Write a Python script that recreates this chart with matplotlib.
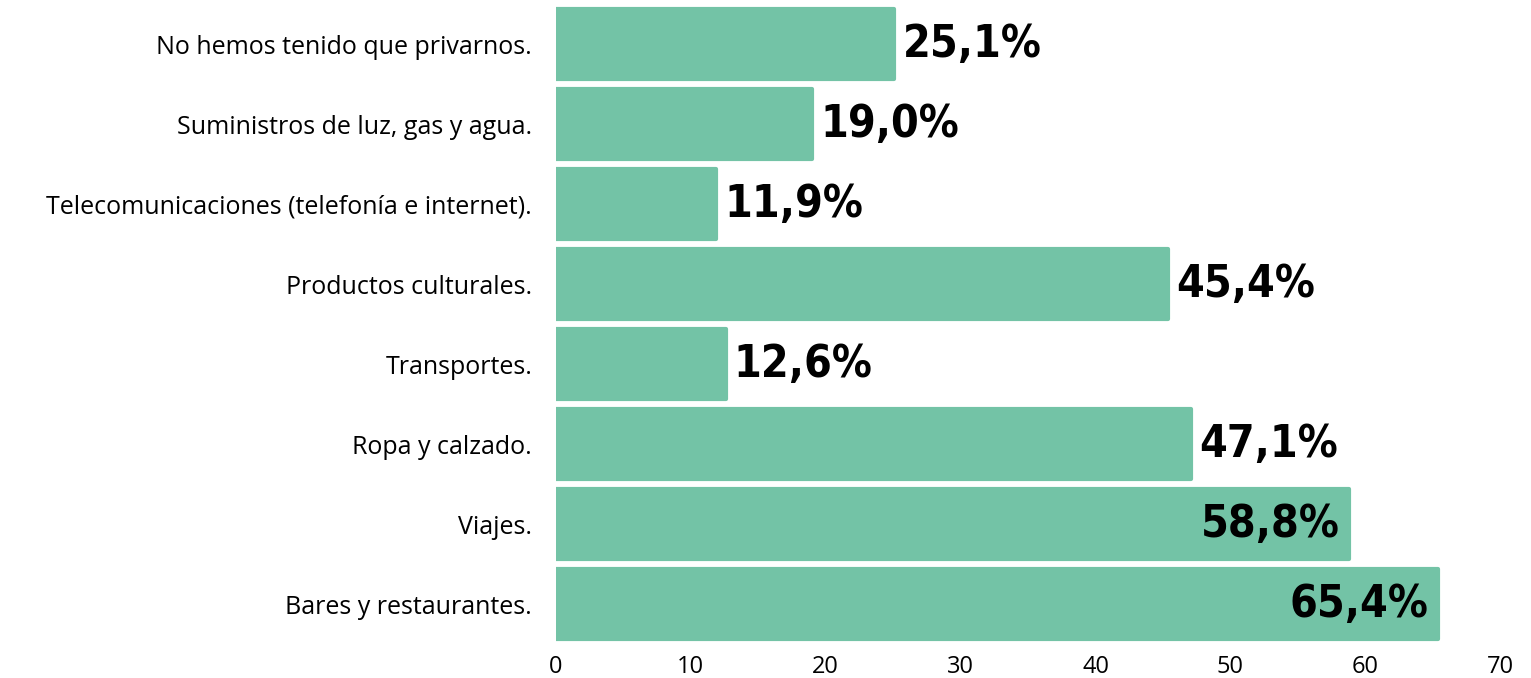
import matplotlib.pyplot as plt
from matplotlib import font_manager

# Data (top to bottom as in the chart)
categories = [
    'No hemos tenido que privarnos.',
    'Suministros de luz, gas y agua.',
    'Telecomunicaciones (telefonía e internet).',
    'Productos culturales.',
    'Transportes.',
    'Ropa y calzado.',
    'Viajes.',
    'Bares y restaurantes.',
]
values = [25.1, 19.0, 11.9, 45.4, 12.6, 47.1, 58.8, 65.4]
xticks = [0, 10, 20, 30, 40, 50, 60, 70]

bar_color = '#73c3a6'

# pick the narrowest bold face installed for the value labels
stretch_rank = {'ultra-condensed': 1, 'extra-condensed': 2, 'condensed': 3,
                'semi-condensed': 4}
best = None
for f in font_manager.fontManager.ttflist:
    st = f.stretch
    if isinstance(st, str):
        rank = stretch_rank.get(st.lower(), 9)
    else:
        rank = st / 100
    if 'narrow' in f.name.lower() or 'condensed' in f.name.lower():
        rank = min(rank, 3)
    w = f.weight if isinstance(f.weight, int) else (700 if 'bold' in str(f.weight) else 400)
    if rank < 5 and w >= 600 and 'italic' not in str(f.style):
        key = (rank, abs(w - 700))
        if best is None or key < best[0]:
            best = (key, f.fname)
if best:
    value_font = font_manager.FontProperties(fname=best[1], size=32)
else:
    value_font = font_manager.FontProperties(family='DejaVu Sans', weight='bold', size=26)

fig = plt.figure(figsize=(15.31, 6.78), dpi=100)
ax = fig.add_axes([0.363, 0.050, 0.617, 0.944])

y = list(range(len(categories)))
ax.barh(y, values, height=0.87, color=bar_color, edgecolor=bar_color,
        linewidth=3, joinstyle='round')

ax.set_xlim(0, 70)
ax.set_ylim(len(categories) - 0.5, -0.5)
ax.set_xticks(xticks)
ax.set_xticklabels([str(t) for t in xticks], fontfamily='Open Sans', fontsize=17)
ax.set_yticks(y)
ax.set_yticklabels(categories, fontfamily='Open Sans', fontsize=18)
ax.tick_params(axis='y', length=0, pad=17)
ax.tick_params(axis='x', length=0, pad=8)
for s in ax.spines.values():
    s.set_visible(False)

# Value labels: inside for long bars, outside otherwise
for yi, v in zip(y, values):
    txt = f'{v:.1f}%'.replace('.', ',')
    if v > 55:
        ax.text(v - 0.7, yi, txt, ha='right', va='center',
                fontproperties=value_font, color='black')
    else:
        ax.text(v + 0.6, yi, txt, ha='left', va='center',
                fontproperties=value_font, color='black')

fig.savefig('out.png', dpi=100)
